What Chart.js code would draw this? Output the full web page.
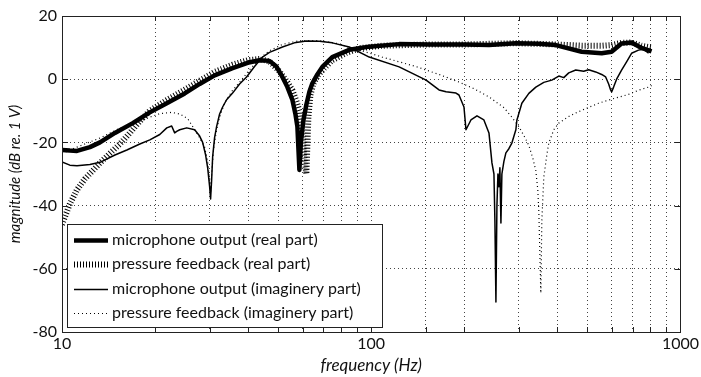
<!DOCTYPE html>
<html>
<head>
<meta charset="utf-8">
<script src="https://cdn.jsdelivr.net/npm/chart.js@4.4.1/dist/chart.umd.min.js"></script>
<style>
  html, body { margin: 0; padding: 0; background: #fff; }
  #wrap { width: 701px; height: 377px; }
</style>
</head>
<body>
<div id="wrap"><canvas id="magChart" width="701" height="377"></canvas></div>
<script>
// values (frequency in Hz, magnitude in dB)
const micRealHz = [10, 10.6, 11.18, 12.31, 13.27, 14.83, 16.94, 19.23, 21.82, 24.94, 27.87, 31.15, 35.62, 39.81, 43.53, 46.88, 49.37, 51.62, 53.58, 55.61, 56.86, 57.71, 58.58, 59.24, 60.35, 61.71, 63.1, 64.52, 66.96, 69.5, 74.84, 84.92, 98.52, 123.1, 153.9, 202, 240.3, 293.6, 348.4, 395.3, 479.4, 556.2, 599, 645.1, 694.8, 748.5, 806.4];
const micRealDb = [-22.4, -22.6, -22.7, -21.5, -20, -17, -13.9, -10.5, -7.6, -4.5, -1.5, 1.2, 3.5, 5.2, 6, 5.8, 4, 0.7, -2.5, -6.6, -11, -15, -28.7, -20, -13, -8, -4, -1.3, 1.5, 3.9, 7, 9.3, 10.3, 11.1, 11, 11, 10.8, 11.4, 11.2, 10.8, 8.7, 8.2, 8.7, 11.3, 11.6, 9.9, 8.8];

const pressRealHz = [10, 10.6, 11.18, 11.87, 13.27, 14.28, 15.39, 16.57, 17.85, 19.23, 21.82, 24.94, 27.87, 31.15, 35.62, 39.81, 43.53, 46.88, 50.48, 53.58, 55.61, 57.3, 58.58, 59.9, 60.8, 61.71, 62.63, 63.58, 65, 66.96, 70.55, 74.84, 83.07, 91.48, 108.5, 153.9, 202, 293.6, 395.3, 479.4, 556.2, 599, 645.1, 694.8, 748.5, 806.4];
const pressRealDb = [-46, -39.5, -35, -31.5, -26.5, -23.5, -20.5, -17, -13.3, -10, -6.6, -3.3, -0.5, 2.3, 4.6, 6, 6.4, 5.6, 2.5, -1, -3.5, -7, -10, -18, -25, -30, -12, -5, -1.5, 1, 3.5, 6, 8.3, 9.8, 10.6, 11, 11, 11.4, 11, 10.6, 10.6, 10.8, 11.5, 11.6, 10.6, 10];

const micImagHz = [10, 10.6, 11.18, 12.31, 13.27, 14.83, 16.21, 17.85, 19.23, 20.71, 21.82, 22.63, 23.14, 23.49, 24.03, 25.31, 26.85, 27.87, 28.5, 29.14, 29.58, 30.02, 30.24, 30.47, 30.7, 31.15, 31.62, 32.34, 33.07, 34.07, 35.62, 37.52, 39.53, 41.94, 44.51, 46.88, 51.62, 56.44, 61.71, 67.96, 74.84, 84.92, 98.52, 123.1, 150.5, 165.7, 174.6, 188, 192.2, 199.5, 202.5, 210.1, 219.8, 231.4, 240.3, 245.7, 249.4, 251.2, 253.1, 255, 256.9, 258.8, 260.7, 262.7, 264.6, 268.6, 272.6, 278.7, 285, 293.6, 295.8, 307, 323.4, 340.7, 361.5, 383.7, 404.2, 419.4, 435.3, 458.6, 486.6, 504.9, 531.9, 556.2, 573, 585.9, 594.6, 599, 607.9, 621.7, 645.1, 669.6, 694.8, 731.9, 759.5, 788.6];
const micImagDb = [-26.2, -27.2, -27.4, -27, -26.3, -24, -22.4, -20.5, -19.2, -17.5, -15.4, -14.8, -17, -16.5, -16, -15.4, -16, -18, -20, -24, -28, -34, -37.9, -32, -24.6, -18.5, -15, -11, -8.8, -6.5, -4.4, -1.5, 0.7, 4, 7, 8.5, 10.2, 11.5, 12.1, 12, 11.5, 10.2, 7, 3.9, -0.3, -3.4, -4, -4.4, -5, -8.8, -16, -12.9, -11.6, -12.9, -17, -26.5, -30, -45, -70.5, -40, -30, -34, -28, -45.5, -30, -26, -23.3, -22, -20.2, -16, -13, -7.6, -4.5, -2.5, -1, -0.3, 1, 0.5, 2, 2.9, 2.5, 3, 2.3, 1.5, 0.7, -1.5, -3.4, -4, -2.5, 0, 2.9, 5.5, 8.2, 9.2, 9.5, 8.2];

const pressImagHz = [10, 11.18, 13.27, 15.39, 16.94, 19.23, 20.71, 22.63, 24.03, 25.5, 26.85, 27.87, 28.92, 29.58, 30.02, 30.24, 30.47, 30.93, 31.62, 32.34, 33.56, 35.62, 37.52, 40.42, 43.53, 46.88, 51.62, 58.58, 67.96, 78.86, 84.92, 98.52, 108.5, 123.1, 139.7, 165.7, 192.2, 214.9, 240.3, 268.6, 285, 300.2, 316.2, 323.4, 333.2, 340.7, 345.7, 348.4, 351, 353.6, 356.2, 361.5, 369.7, 375.2, 389.4, 404.2, 435.3, 458.6, 504.9, 543.8, 585.9, 631, 679.6, 731.9, 788.6, 806.4];
const pressImagDb = [-23.5, -21.5, -18.6, -15.5, -14.3, -12, -10.9, -10.5, -11, -12.5, -16, -18.5, -21.5, -26, -32, -36, -30, -22, -16, -12, -7.5, -3.5, -1, 3, 6.5, 9, 11, 12.2, 12.2, 11.2, 10, 8.3, 7, 5.5, 4, 1.5, -0.9, -3, -5.6, -9, -12, -15, -19, -21, -25, -29, -35, -42, -55, -67.7, -45, -31, -24, -20.2, -16, -13.9, -11.8, -10.7, -8.9, -7.6, -6.6, -5.7, -4.8, -3.5, -2.5, -2];

const seriesLabels = [
  'microphone output (real part)',
  'pressure feedback (real part)',
  'microphone output (imaginery part)',
  'pressure feedback (imaginery part)'
];
const xTickLabels = [10, 100, 1000];

const toPoints = (hz, db) => hz.map((f, i) => ({ x: f, y: db[i] }));

const FONT = 'Lato, "Open Sans", sans-serif';

// legend box drawn inside the plot, lower left
const insideLegend = {
  id: 'insideLegend',
  afterDraw(chart) {
    const ctx = chart.ctx;
    const area = chart.chartArea;
    const bx = area.left + 5, by = 224, bw = 315, bh = 103;
    ctx.save();
    ctx.fillStyle = '#fff';
    ctx.fillRect(bx, by, bw, bh);
    ctx.strokeStyle = '#222';
    ctx.lineWidth = 1;
    ctx.strokeRect(bx + 0.5, by + 0.5, bw, bh);
    ctx.font = '16px ' + FONT;
    ctx.fillStyle = '#111';
    ctx.textBaseline = 'middle';
    chart.data.datasets.forEach((ds, i) => {
      const y = by + 16 + i * 24.3;
      ctx.save();
      ctx.strokeStyle = ds.borderColor;
      ctx.lineWidth = ds.borderWidth;
      ctx.setLineDash(ds.borderDash || []);
      ctx.beginPath();
      ctx.moveTo(bx + 7, Math.round(y) + 0.5);
      ctx.lineTo(bx + 41, Math.round(y) + 0.5);
      ctx.stroke();
      ctx.restore();
      ctx.fillText(ds.label, bx + 45, y);
    });
    ctx.restore();
  }
};

// frame and inward tick marks
const frame = {
  id: 'frame',
  afterDraw(chart) {
    const ctx = chart.ctx;
    const { left, right, top, bottom } = chart.chartArea;
    const xs = chart.scales.x, ys = chart.scales.y;
    ctx.save();
    ctx.strokeStyle = '#222';
    ctx.lineWidth = 1;
    ctx.beginPath();
    xs.ticks.forEach(t => {
      const px = Math.round(xs.getPixelForValue(t.value)) + 0.5;
      ctx.moveTo(px, bottom); ctx.lineTo(px, bottom - 5);
      ctx.moveTo(px, top); ctx.lineTo(px, top + 5);
    });
    ys.ticks.forEach(t => {
      const py = Math.round(ys.getPixelForValue(t.value)) + 0.5;
      ctx.moveTo(left, py); ctx.lineTo(left + 6, py);
      ctx.moveTo(right, py); ctx.lineTo(right - 6, py);
    });
    ctx.stroke();
    ctx.strokeRect(Math.round(left) + 0.5, Math.round(top) + 0.5, Math.round(right - left), Math.round(bottom - top));
    ctx.restore();
  }
};

new Chart(document.getElementById('magChart'), {
  type: 'line',
  data: {
    datasets: [
      { label: seriesLabels[0], data: toPoints(micRealHz, micRealDb), borderColor: '#000', borderWidth: 4.5 },
      { label: seriesLabels[1], data: toPoints(pressRealHz, pressRealDb), borderColor: '#000', borderWidth: 6, borderDash: [1, 2] },
      { label: seriesLabels[2], data: toPoints(micImagHz, micImagDb), borderColor: '#000', borderWidth: 1.5 },
      { label: seriesLabels[3], data: toPoints(pressImagHz, pressImagDb), borderColor: '#000', borderWidth: 1.2, borderDash: [1, 3] }
    ]
  },
  options: {
    responsive: false,
    animation: false,
    layout: { padding: { left: 0, top: 16, right: 19, bottom: 0 } },
    elements: { point: { radius: 0 }, line: { tension: 0, borderJoinStyle: 'round' } },
    plugins: { legend: { display: false }, tooltip: { enabled: false } },
    scales: {
      x: {
        type: 'logarithmic',
        min: 10,
        max: 1000,
        afterFit: s => { s.height = 45; },
        grid: { color: '#444', lineWidth: 1, drawTicks: false },
        border: { display: false, dash: [1, 3] },
        ticks: {
          padding: 2,
          autoSkip: false,
          maxRotation: 0,
          color: '#111',
          font: { family: FONT, size: 16 },
          callback: v => (xTickLabels.includes(v) ? String(v) : '')
        },
        title: {
          display: true,
          text: 'frequency (Hz)',
          color: '#111',
          font: { family: FONT, size: 17, style: 'italic' },
          padding: { top: 0, bottom: 1 }
        }
      },
      y: {
        min: -80,
        max: 20,
        afterFit: s => { s.width = 62; },
        grid: { color: '#444', lineWidth: 1, drawTicks: false },
        border: { display: false, dash: [1, 3] },
        ticks: {
          stepSize: 20,
          padding: 5,
          color: '#111',
          font: { family: FONT, size: 16 }
        },
        title: {
          display: true,
          text: 'magnitude (dB re. 1 V)',
          color: '#111',
          font: { family: FONT, size: 15, style: 'italic' },
          padding: { top: 6, bottom: 0 }
        }
      }
    }
  },
  plugins: [insideLegend, frame]
});
</script>
</body>
</html>
